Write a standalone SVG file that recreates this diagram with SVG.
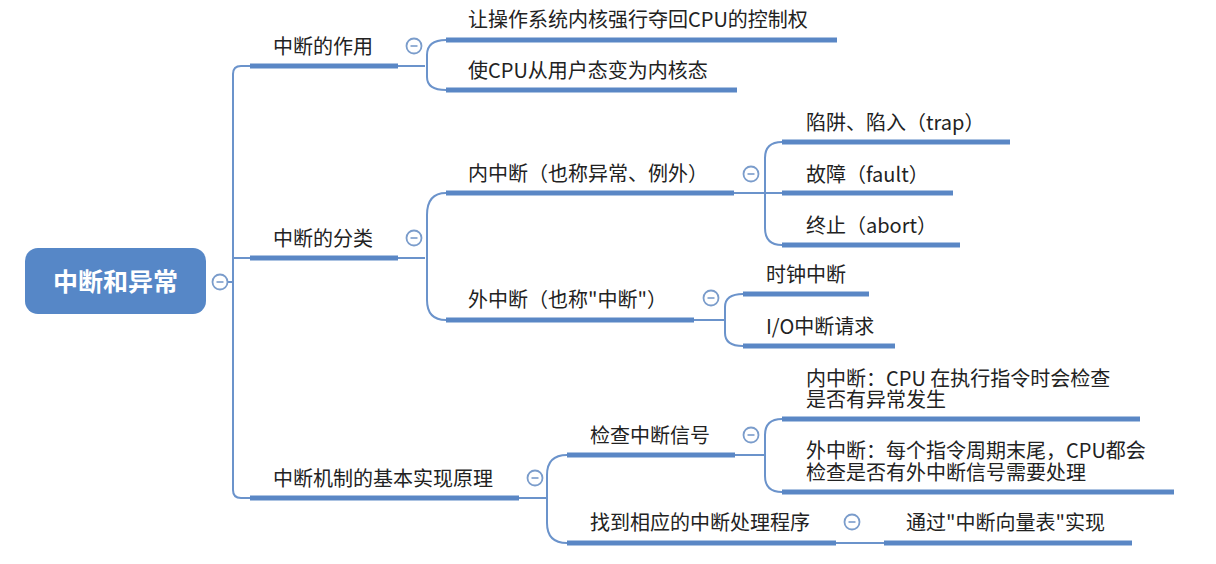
<svg xmlns="http://www.w3.org/2000/svg" width="1216" height="564" viewBox="0 0 1216 564">
<style>
.t{font-family:"Noto Sans CJK SC","Liberation Sans",sans-serif;font-size:20px;fill:#222}
.u{stroke:#5A87C5;stroke-width:5;stroke-linecap:butt;fill:none}
.c{stroke:#6B93CB;stroke-width:2;fill:none}
.k{fill:#fff;stroke:#7A9CCB;stroke-width:1.8}
.m{stroke:#7A9CCB;stroke-width:1.6}
</style>
<defs>
<g id="col"><circle class="k" cx="0" cy="0" r="7.5"/><line class="m" x1="-3.5" y1="0" x2="3.5" y2="0"/></g>
</defs>
<rect width="1216" height="564" fill="#fff"/>
<g id="connectors">
<path class="c" d="M227,282 H233"/>
<path class="c" d="M250,66 H241 Q233,66 233,74 V490 Q233,498 241,498 H250"/>
<path class="c" d="M233,258 H250"/>
<path class="c" d="M398,66 H425 M446,40 Q427,40 427,55 V77 Q427,90 446,90"/>
<path class="c" d="M398,258 H425 M446,193 Q427,193 427,215 V300 Q427,320 446,320"/>
<path class="c" d="M734,193 H782 M782,142 Q765,142 765,158 V228 Q765,245 782,245"/>
<path class="c" d="M694,320 H725 M743,294 Q725,294 725,307 V333 Q725,346 743,346"/>
<path class="c" d="M519,498 H547 M567,455 Q547,455 547,475 V523 Q547,543 567,543"/>
<path class="c" d="M735,455 H765 M782,419 Q765,419 765,435 V476 Q765,492 782,492"/>
<path class="c" d="M836,543 H884"/>
</g>
<g id="root">
<rect x="25" y="248" width="181" height="66" rx="13" fill="#5687C7"/>
<text x="115.5" y="291" text-anchor="middle" font-family="Noto Sans CJK SC,sans-serif" font-size="25" font-weight="bold" fill="#fff">中断和异常</text>
<use href="#col" x="220" y="282"/>
</g>
<g id="n1">
<text class="t" x="273" y="54">中断的作用</text>
<line class="u" x1="250" y1="66" x2="398" y2="66"/>
<use href="#col" x="414" y="46"/>
</g>
<g id="n1a">
<text class="t" x="468" y="27">让操作系统内核强行夺回CPU的控制权</text>
<line class="u" x1="446" y1="40" x2="837" y2="40"/>
</g>
<g id="n1b">
<text class="t" x="468" y="78">使CPU从用户态变为内核态</text>
<line class="u" x1="446" y1="90" x2="737" y2="90"/>
</g>
<g id="n2">
<text class="t" x="273" y="246">中断的分类</text>
<line class="u" x1="250" y1="258" x2="398" y2="258"/>
<use href="#col" x="414" y="238"/>
</g>
<g id="n2a">
<text class="t" x="468" y="181">内中断（也称异常、例外）</text>
<line class="u" x1="446" y1="193" x2="734" y2="193"/>
<use href="#col" x="751" y="174"/>
</g>
<g id="n2a1">
<text class="t" x="806" y="130">陷阱、陷入（trap）</text>
<line class="u" x1="782" y1="142" x2="1010" y2="142"/>
</g>
<g id="n2a2">
<text class="t" x="806" y="182">故障（fault）</text>
<line class="u" x1="782" y1="193" x2="953" y2="193"/>
</g>
<g id="n2a3">
<text class="t" x="806" y="233">终止（abort）</text>
<line class="u" x1="782" y1="245" x2="960" y2="245"/>
</g>
<g id="n2b">
<text class="t" x="468" y="307">外中断（也称"中断"）</text>
<line class="u" x1="446" y1="320" x2="694" y2="320"/>
<use href="#col" x="711" y="298"/>
</g>
<g id="n2b1">
<text class="t" x="766" y="282">时钟中断</text>
<line class="u" x1="743" y1="294" x2="869" y2="294"/>
</g>
<g id="n2b2">
<text class="t" x="766" y="334">I/O中断请求</text>
<line class="u" x1="743" y1="346" x2="895" y2="346"/>
</g>
<g id="n3">
<text class="t" x="273" y="486">中断机制的基本实现原理</text>
<line class="u" x1="250" y1="498" x2="519" y2="498"/>
<use href="#col" x="535" y="478"/>
</g>
<g id="n3a">
<text class="t" x="590" y="443">检查中断信号</text>
<line class="u" x1="567" y1="455" x2="735" y2="455"/>
<use href="#col" x="751" y="435"/>
</g>
<g id="n3a1">
<text class="t" x="806" y="386">内中断：CPU 在执行指令时会检查<tspan x="806" dy="21">是否有异常发生</tspan></text>
<line class="u" x1="782" y1="419" x2="1140" y2="419"/>
</g>
<g id="n3a2">
<text class="t" x="806" y="458">外中断：每个指令周期末尾，CPU都会<tspan x="806" dy="22">检查是否有外中断信号需要处理</tspan></text>
<line class="u" x1="782" y1="492" x2="1174" y2="492"/>
</g>
<g id="n3b">
<text class="t" x="590" y="530">找到相应的中断处理程序</text>
<line class="u" x1="567" y1="543" x2="836" y2="543"/>
<use href="#col" x="852" y="522"/>
</g>
<g id="n3b1">
<text class="t" x="906" y="530">通过"中断向量表"实现</text>
<line class="u" x1="884" y1="543" x2="1132" y2="543"/>
</g>
</svg>
